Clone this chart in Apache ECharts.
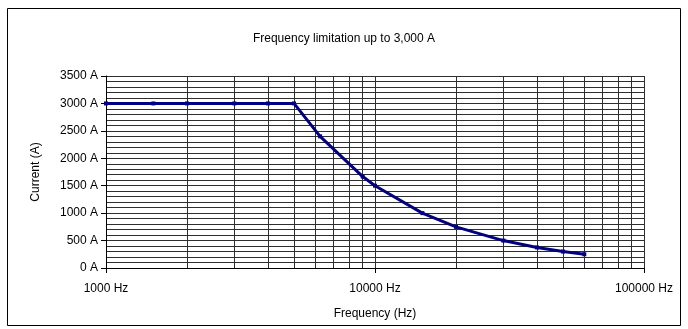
<!DOCTYPE html>
<html>
<head>
<meta charset="utf-8">
<script src="https://cdn.jsdelivr.net/npm/echarts@6/dist/echarts.min.js"></script>
<style>
  html, body { margin: 0; padding: 0; background: #fff; }
  #chart { width: 688px; height: 329px; }
</style>
</head>
<body>
<div id="chart"></div>
<script>
// Frequency derating curve: current limit versus frequency
const frequencies = [1000, 1500, 2000, 3000, 4000, 5000, 6250, 9000, 10000, 15000, 20000, 30000, 40000, 50000, 60000];
const currents    = [3000, 3000, 3000, 3000, 3000, 3000, 2400, 1667, 1500, 1000,  750,   500,   375,   300,   250];

// Intermediate decade gridlines (2..9 x 1000, 2..9 x 10000)
const minorFrequencies = [2000, 3000, 4000, 5000, 6000, 7000, 8000, 9000,
                          20000, 30000, 40000, 50000, 60000, 70000, 80000, 90000];

const gridColor = '#2e2e2e';
const font = 'Liberation Sans, Arial, sans-serif';

const chart = echarts.init(document.getElementById('chart'), null, { renderer: 'canvas' });

chart.setOption({
  animation: false,
  backgroundColor: '#fff',
  title: {
    text: 'Frequency limitation up to 3,000 A',
    left: 'center',
    top: 28,
    textStyle: { fontFamily: font, fontSize: 12, fontWeight: 'normal', color: '#000' }
  },
  grid: { left: 106, right: 44, top: 76, bottom: 61, containLabel: false },
  xAxis: {
    type: 'log',
    logBase: 10,
    min: 1000,
    max: 100000,
    name: 'Frequency (Hz)',
    nameLocation: 'middle',
    nameGap: 40,
    nameTextStyle: { fontFamily: font, fontSize: 12, color: '#000' },
    axisLine: { show: true, onZero: false, lineStyle: { color: '#000', width: 1 } },
    axisTick: { show: true, length: 5, lineStyle: { color: '#000' } },
    axisLabel: {
      margin: 15,
      fontFamily: font, fontSize: 12, color: '#000',
      formatter: v => Math.round(v) + ' Hz'
    },
    splitLine: { show: true, lineStyle: { color: gridColor, width: 1 } },
    minorTick: { show: false },
    minorSplitLine: { show: false }
  },
  yAxis: {
    type: 'value',
    min: 0,
    max: 3500,
    interval: 500,
    name: 'Current (A)',
    nameLocation: 'middle',
    nameGap: 64,
    nameRotate: 90,
    nameTextStyle: { fontFamily: font, fontSize: 12, color: '#000' },
    axisLine: { show: true, lineStyle: { color: '#000', width: 1 } },
    axisTick: { show: true, length: 5, inside: false, lineStyle: { color: '#000' } },
    axisLabel: {
      margin: 8,
      fontFamily: font, fontSize: 12, color: '#000',
      formatter: v => v + ' A'
    },
    splitLine: { show: true, lineStyle: { color: gridColor, width: 1 } },
    minorTick: { show: false, splitNumber: 5 },
    minorSplitLine: { show: true, lineStyle: { color: gridColor, width: 1 } }
  },
  series: [{
    type: 'line',
    data: frequencies.map((f, i) => [f, currents[i]]),
    smooth: false,
    symbol: 'rect',
    symbolSize: 4,
    showSymbol: true,
    itemStyle: { color: '#000080' },
    lineStyle: { color: '#000080', width: 3 },
    z: 10,
    markLine: {
      silent: true,
      symbol: ['none', 'none'],
      label: { show: false },
      lineStyle: { color: gridColor, width: 1, type: 'solid' },
      z: 1,
      data: minorFrequencies.map(f => ({ xAxis: f }))
    }
  }],
  graphic: [{
    type: 'rect',
    shape: { x: 7.5, y: 8.5, width: 673, height: 317 },
    style: { fill: 'none', stroke: '#000', lineWidth: 1 },
    silent: true,
    z: 100
  }]
});
</script>
</body>
</html>
